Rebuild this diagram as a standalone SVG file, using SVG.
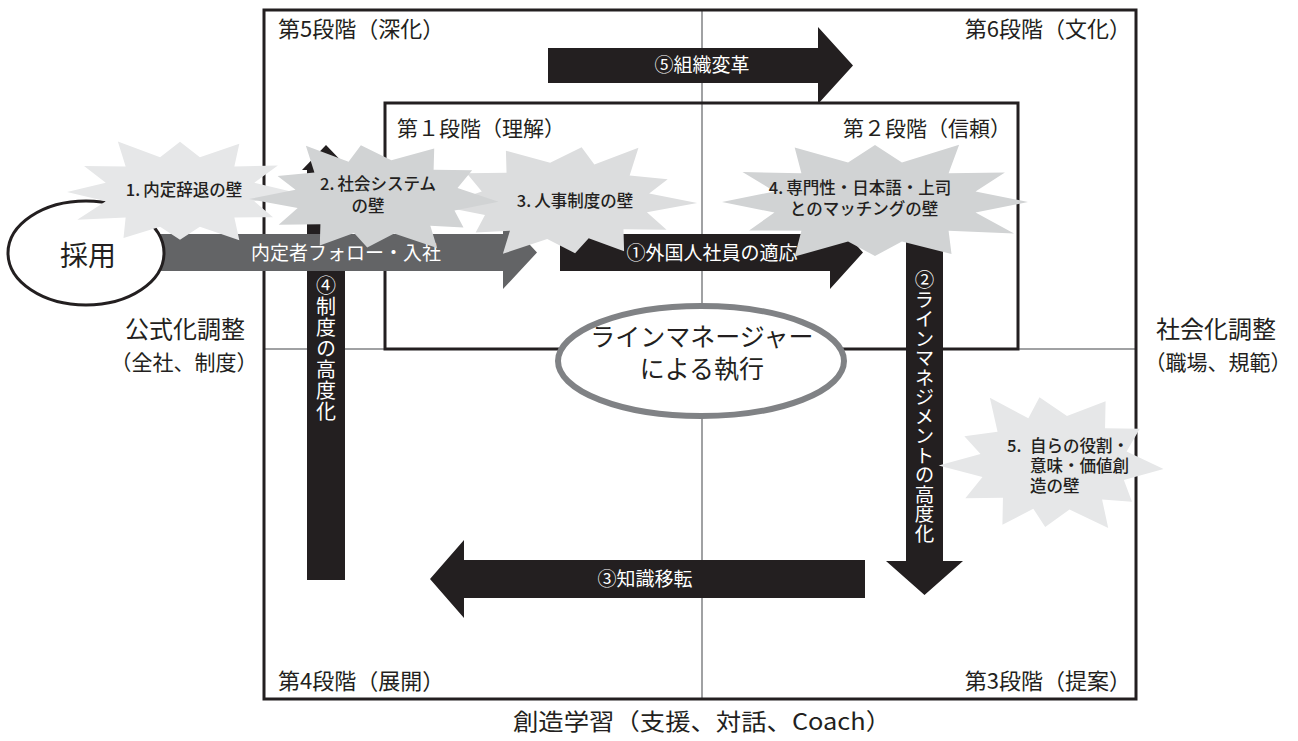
<svg xmlns="http://www.w3.org/2000/svg" width="1298" height="741" viewBox="0 0 1298 741">
<style>
text{font-family:"Noto Sans CJK JP","Noto Sans CJK SC",sans-serif;fill:#231f20}
.frame{fill:none;stroke:#231f20;stroke-width:3}
.axis{stroke:#808285;stroke-width:1.5}
.dark{fill:#231f20}
.wt{fill:#ffffff;font-size:19px}
.vt{fill:#ffffff;writing-mode:vertical-rl}
.stage{font-size:22px}
.side{font-size:24px}
.side2{font-size:21px}
.bt{font-size:16.5px;font-weight:500}
.mid{text-anchor:middle}
.end{text-anchor:end}
</style>
<defs>
<polygon id="starA" points="1,0 .657,.176 .823,.475 .481,.481 .525,.909 .176,.657 0,.9 -.176,.657 -.5,.866 -.481,.481 -.909,.525 -.657,.176 -1,0 -.657,-.176 -.849,-.49 -.481,-.481 -.55,-.953 -.176,-.657 0,-.95 .176,-.657 .525,-.909 .481,-.481 .866,-.5 .657,-.176"/>
<polygon id="starB" points=".996,.087 .635,.244 .709,.554 .437,.521 .493,.927 .141,.665 -.080,.916 -.188,.653 -.469,.883 -.464,.497 -.806,.504 -.650,.199 -1.049,.037 -.668,-.130 -.815,-.381 -.513,-.446 -.583,-.933 -.233,-.639 -.132,-.941 .118,-.670 .469,-.883 .464,-.497 .780,-.488 .660,-.165"/>
</defs>
<rect width="1298" height="741" fill="#ffffff"/>

<g id="frame">
<line class="axis" x1="702" y1="10" x2="702" y2="699"/>
<line class="axis" x1="264" y1="349" x2="1136" y2="349"/>
<rect class="frame" x="264" y="10" width="872" height="689"/>
<rect class="frame" x="385" y="103" width="633" height="246"/>
</g>

<g id="stage-labels">
<text class="stage" x="278" y="37">第5段階（深化）</text>
<text class="stage end" x="1131" y="37">第6段階（文化）</text>
<text x="397" y="136" font-size="21">第１段階（理解）</text>
<text class="end" x="1011" y="136" font-size="21">第２段階（信頼）</text>
<text class="stage" x="278" y="689">第4段階（展開）</text>
<text class="stage end" x="1131" y="689">第3段階（提案）</text>
</g>

<g id="axis-labels">
<text class="side mid" x="185" y="338">公式化調整</text>
<text class="side2 mid" x="184" y="370">（全社、制度）</text>
<text class="side mid" x="1216" y="338">社会化調整</text>
<text class="side2 mid" x="1218" y="370">（職場、規範）</text>
<text class="mid" x="702" y="730" font-size="23" textLength="378" lengthAdjust="spacingAndGlyphs">創造学習（支援、対話、Coach）</text>
</g>

<g id="node-line-manager">
<ellipse cx="701" cy="361" rx="143" ry="55" fill="#ffffff" stroke="#808285" stroke-width="6"/>
<text class="mid" font-size="25"><tspan x="702" y="346">ラインマネージャー</tspan><tspan x="702" y="378">による執行</tspan></text>
</g>

<g id="connectors">
<g id="arrow-4">
<path class="dark" d="M307,580 V170 H302 L326,145 L350,170 H345 V580 Z"/>
<text class="vt" x="326" y="275" font-size="20" letter-spacing="1">④制度の高度化</text>
</g>
<g id="arrow-follow">
<path d="M150,234 H503 V216 L537,252.5 L503,289 V271 H150 Z" fill="#636466"/>
<text class="wt mid" x="346" y="260">内定者フォロー・入社</text>
</g>
<g id="arrow-1">
<path class="dark" d="M560,234 H830 V216 L863,252.5 L830,289 V271 H560 Z"/>
<text class="wt mid" x="712" y="260">①外国人社員の適応</text>
</g>
<g id="arrow-5">
<path class="dark" d="M548,48 H818 V27 L853,65.5 L818,104 V83 H548 Z"/>
<text class="wt mid" x="702" y="72">⑤組織変革</text>
</g>
<g id="arrow-3">
<path class="dark" d="M865,560 H464 V540 L430,579 L464,618 V598 H865 Z"/>
<text class="wt mid" x="645" y="586">③知識移転</text>
</g>
<g id="arrow-2">
<path class="dark" d="M906,222 V561 H886 L924.5,595 L963,561 H943 V222 Z"/>
<text class="vt" x="924.5" y="270" font-size="19.5">②ラインマネジメントの高度化</text>
</g>
</g>

<g id="node-saiyo">
<ellipse cx="86" cy="253" rx="78" ry="52" fill="#ffffff" stroke="#231f20" stroke-width="3"/>
<text class="mid" x="88" y="266" font-size="28">採用</text>
</g>

<g id="wall-1">
<use href="#starA" transform="translate(180,192) scale(113,53)" fill="#e6e7e8"/>
<text class="bt mid" x="184" y="196">1.<tspan dx="3">内定辞退の壁</tspan></text>
</g>
<g id="wall-3">
<use href="#starB" transform="translate(565,201) scale(-126,57)" fill="#dcddde"/>
<text class="bt mid" x="575" y="207">3.<tspan dx="3">人事制度の壁</tspan></text>
</g>
<g id="wall-2">
<use href="#starB" transform="translate(377,197) scale(122,55)" fill="#d1d3d4"/>
<text class="bt mid"><tspan x="378" y="190">2.</tspan><tspan dx="3">社会システム</tspan><tspan x="368" y="212">の壁</tspan></text>
</g>
<g id="wall-4">
<use href="#starA" transform="translate(875,202) scale(-153,60)" fill="#d1d3d4"/>
<text class="bt mid"><tspan x="860" y="194">4.</tspan><tspan dx="3">専門性・日本語・上司</tspan><tspan x="864" y="215">とのマッチングの壁</tspan></text>
</g>
<g id="wall-5">
<use href="#starB" transform="translate(1054,463) scale(110,70)" fill="#e6e7e8"/>
<text class="bt"><tspan x="1007" y="452">5.</tspan><tspan x="1030" y="452">自らの役割・</tspan><tspan x="1030" y="472">意味・価値創</tspan><tspan x="1030" y="492">造の壁</tspan></text>
</g>
</svg>
